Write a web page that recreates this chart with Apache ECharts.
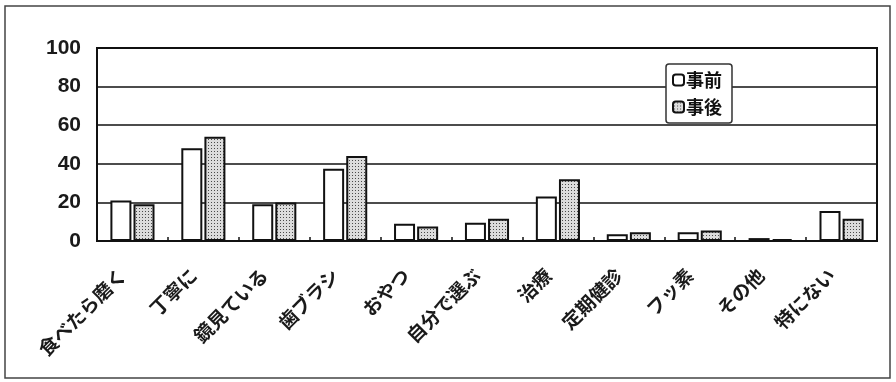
<!DOCTYPE html>
<html>
<head>
<meta charset="utf-8">
<script src="https://cdn.jsdelivr.net/npm/echarts@6/dist/echarts.min.js"></script>
<style>
  html, body { margin: 0; padding: 0; background: #fff; }
  #chart { width: 896px; height: 382px; }
</style>
</head>
<body>
<div id="chart"></div>
<script>
// Survey responses (%) before and after the program
const categories = ['食べたら磨く', '丁寧に', '鏡見ている', '歯ブラシ', 'おやつ', '自分で選ぶ', '治療', '定期健診', 'フッ素', 'その他', '特にない'];
const beforeValues = [21, 48, 19, 37.5, 9, 9.5, 23, 3.5, 4.5, 1.5, 15.5];
const afterValues = [19, 54, 20, 44, 7.5, 11.5, 32, 4.5, 5.5, 1, 11.5];
const seriesNames = ['事前', '事後'];
const yTicks = [0, 20, 40, 60, 80, 100];

// Stippled fill for the second series
function dotPattern() {
  const c = document.createElement('canvas');
  c.width = 3; c.height = 3;
  const ctx = c.getContext('2d');
  ctx.fillStyle = '#dcdcdc';
  ctx.fillRect(0, 0, 3, 3);
  ctx.fillStyle = '#4a4a4a';
  ctx.fillRect(1, 1, 1, 1);
  return c;
}

const chart = echarts.init(document.getElementById('chart'), null, { renderer: 'canvas' });
const jpFont = '"Noto Sans CJK JP", sans-serif';

chart.setOption({
  animation: false,
  backgroundColor: '#fff',
  graphic: [{
    type: 'rect',
    shape: { x: 5, y: 6, width: 885, height: 372 },
    style: { fill: 'none', stroke: '#444', lineWidth: 1.5 },
    silent: true
  }],
  grid: {
    left: 97, top: 48, right: 19, bottom: 141,
    show: true, borderColor: '#111', borderWidth: 2, backgroundColor: 'transparent'
  },
  legend: {
    orient: 'vertical',
    left: 666, top: 64,
    itemWidth: 11, itemHeight: 11, itemGap: 9,
    padding: [7, 10, 7, 6],
    backgroundColor: '#fff',
    borderColor: '#333', borderWidth: 1.5, borderRadius: 3,
    textStyle: { fontFamily: jpFont, fontSize: 18, fontWeight: 'bold', color: '#111', padding: [0, 0, 0, -3] },
    data: seriesNames
  },
  xAxis: {
    type: 'category',
    data: categories,
    axisLine: { show: true, lineStyle: { color: '#111', width: 2 } },
    axisTick: { show: true, inside: true, length: 4, lineStyle: { color: '#111', width: 1.5 } },
    axisLabel: {
      interval: 0, rotate: 45, margin: 21,
      padding: [0, 14, 0, 0],
      fontFamily: jpFont, fontSize: 19, fontWeight: 'bold', color: '#1a1a1a'
    }
  },
  yAxis: {
    type: 'value',
    min: yTicks[0], max: yTicks[yTicks.length - 1], interval: 20,
    axisLine: { show: true, lineStyle: { color: '#111', width: 2 } },
    axisTick: { show: false },
    splitLine: { show: true, lineStyle: { color: '#111', width: 1.5 } },
    axisLabel: {
      margin: 16,
      fontFamily: '"Liberation Sans", Arial, sans-serif', fontSize: 21, fontWeight: 'bold', color: '#1a1a1a'
    }
  },
  series: [
    {
      name: seriesNames[0], type: 'bar', data: beforeValues,
      barWidth: 21, barGap: '10%',
      itemStyle: { color: '#fff', borderColor: '#111', borderWidth: 2 }
    },
    {
      name: seriesNames[1], type: 'bar', data: afterValues,
      barWidth: 21, barGap: '10%',
      itemStyle: { color: { image: dotPattern(), repeat: 'repeat' }, borderColor: '#111', borderWidth: 2 }
    }
  ]
});
</script>
</body>
</html>
